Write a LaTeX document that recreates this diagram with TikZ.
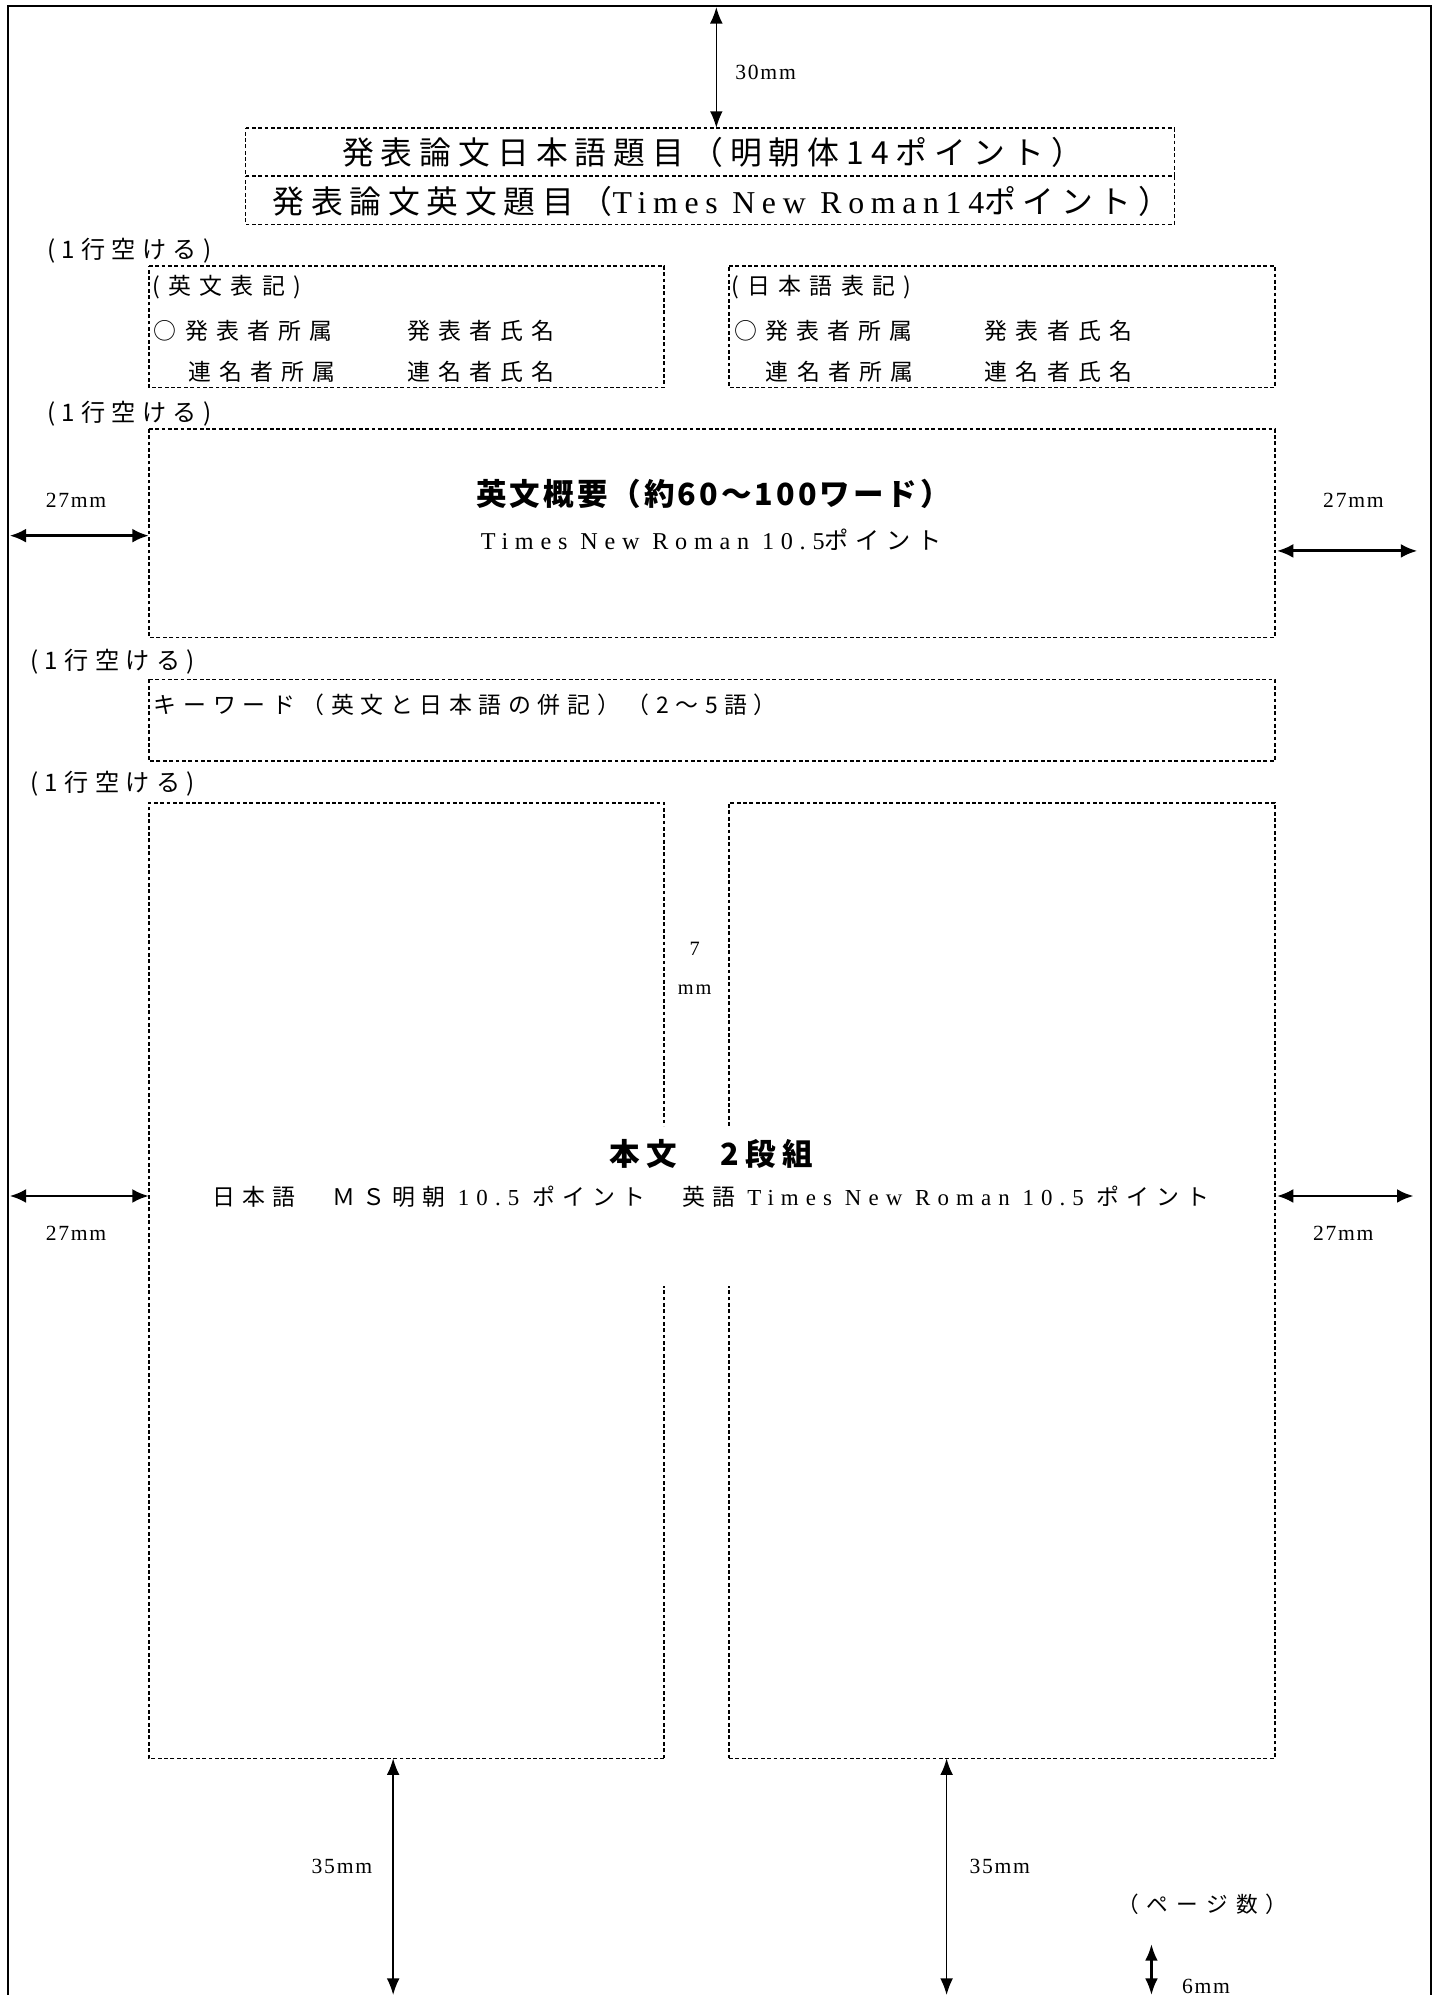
\documentclass[tikz,border=0pt]{standalone}
\usepackage{fontspec}
\setmainfont{Liberation Serif}
\newfontfamily\jp{Noto Sans CJK JP}
\usetikzlibrary{arrows.meta}
\newcommand\J[2]{{\jp\addfontfeatures{LetterSpace=#1}#2}}
\newcommand\R[2]{{\rmfamily\addfontfeatures{LetterSpace=#1}#2}}
\newcommand\fs[1]{\fontsize{#1}{#1}\selectfont}
\newcommand\boxsides[1]{%
  \draw[dline] (#1.north west) -- (#1.north east) -- (#1.south east) -- (#1.south west) -- cycle;}
\begin{document}
\begin{tikzpicture}[x=1pt,y=-1pt,
  area/.style={rectangle, inner sep=0pt, outer sep=0pt, draw=none},
  dline/.style={line width=1.3pt, dash pattern=on 3pt off 2pt},
  frame/.style={line width=1.7pt, line join=miter},
  dimv/.style={line width=1.3pt, >={Latex[length=13pt,width=10pt]}, <->},
  dimh/.style={line width=2.3pt, >={Latex[length=13pt,width=11pt]}, <->},
  txt/.style={inner sep=0pt, outer sep=0pt, font=\fs{18}},
  mm/.style={inner sep=0pt, outer sep=0pt, font=\fs{17}, anchor=west},
  skip/.style={inner sep=0pt, outer sep=0pt, font=\fs{19}, anchor=west}
]
\useasboundingbox (0,0) rectangle (1129,1568);

% page frame
\coordinate (FBL) at (6,1580);
\coordinate (FTL) at (6,4.5);
\coordinate (FTR) at (1124.5,4.5);
\coordinate (FBR) at (1124.5,1580);
\draw[frame] (FBL) -- (FTL) -- (FTR) -- (FBR);

% boxes
\node[area, minimum width=730, minimum height=38] (t1) at (558,119.5) {};
\node[area, minimum width=730, minimum height=38] (t2) at (558,157.5) {};
\node[area, minimum width=405, minimum height=95.5] (a1) at (319.5,256.75) {};
\node[area, minimum width=429, minimum height=95.5] (a2) at (787.5,256.75) {};
\node[area, minimum width=885, minimum height=164] (abs) at (559.5,419) {};
\node[area, minimum width=885, minimum height=64] (kw) at (559.5,566) {};
\node[area, minimum width=405, minimum height=751] (c1) at (319.5,1006.5) {};
\node[area, minimum width=429, minimum height=751] (c2) at (787.5,1006.5) {};
\boxsides{t1}
\boxsides{t2}
\boxsides{a1}
\boxsides{a2}
\boxsides{abs}
\boxsides{kw}
% body columns (inner sides broken for the text)
\draw[dline] (c1.south east) -- (c1.south west) -- (c1.north west) -- (c1.north east) -- ++(0,254);
\draw[dline] (c1.south east) -- ++(0,-371);
\draw[dline] (c2.south west) -- (c2.south east) -- (c2.north east) -- (c2.north west) -- ++(0,254);
\draw[dline] (c2.south west) -- ++(0,-371);

% titles
\node[txt, font=\fs{25}] (t1x) at (560,120) {\J{22}{発表論文日本語題目（明朝体14ポイント）}};
\node[txt, font=\fs{25}] (t2x) at (567,158) {\J{21}{発表論文英文題目（}\R{21}{Times New Roman14}\J{21}{ポイント）}};

% (1行空ける)
\node[skip] (s1) at (37,197) {\J{26}{(1行空ける)}};
\node[skip] (s2) at (37,325) {\J{26}{(1行空ける)}};
\node[skip] (s3) at (24,520) {\J{26}{(1行空ける)}};
\node[skip] (s4) at (24,616) {\J{26}{(1行空ける)}};

% author boxes
\node[txt, anchor=west] (a1h) at (120,226) {\J{36}{(英文表記)}};
\node[txt, anchor=west] (a1p) at (121,260) {\J{36}{○発表者所属}};
\node[txt, anchor=west] (a1n) at (320,260) {\J{36}{発表者氏名}};
\node[txt, anchor=west] (a1q) at (148,292) {\J{36}{連名者所属}};
\node[txt, anchor=west] (a1m) at (320,292) {\J{36}{連名者氏名}};
\node[txt, anchor=west] (a2h) at (575,226) {\J{36}{(日本語表記)}};
\node[txt, anchor=west] (a2p) at (577,260) {\J{36}{○発表者所属}};
\node[txt, anchor=west] (a2n) at (774,260) {\J{36}{発表者氏名}};
\node[txt, anchor=west] (a2q) at (602,292) {\J{36}{連名者所属}};
\node[txt, anchor=west] (a2m) at (774,292) {\J{36}{連名者氏名}};

% abstract
\node[txt, font=\fs{24}\bfseries] (absh) at (561,388) {\J{10}{英文概要（約60～100ワード）}};
\node[txt, font=\fs{19}] (absl) at (559,424) {\R{28}{Times New Roman 10.5}\J{28}{ポイント}};

% keywords
\node[txt, anchor=west] (kwx) at (121,554) {\J{29}{キーワード（英文と日本語の併記）（2～5語）}};

% body
\node[txt, font=\fs{16}] (g7) at (546,746) {7};
\node[txt, font=\fs{16}] (gmm) at (546,778) {\R{10}{mm}};
\node[txt, font=\fs{24}\bfseries] (bodyh) at (559,907) {\J{21}{本文　2段組}};
\node[txt] (bodyl) at (559,941) {\J{31}{日本語　ＭＳ明朝 }\R{31}{10.5 }\J{31}{ポイント　英語 }\R{31}{Times New Roman 10.5 }\J{31}{ポイント}};

% dimension labels
\node[mm] (m30) at (578,57) {\R{8}{30mm}};
\node[mm] (m27a) at (36,393) {\R{8}{27mm}};
\node[mm] (m27b) at (1040,393) {\R{8}{27mm}};
\node[mm] (m27c) at (36,969) {\R{8}{27mm}};
\node[mm] (m27d) at (1032,969) {\R{8}{27mm}};
\node[mm] (m35a) at (245,1467) {\R{8}{35mm}};
\node[mm] (m35b) at (762,1467) {\R{8}{35mm}};
\node[mm] (m6) at (929,1561) {\R{8}{6mm}};
\node[txt, font=\fs{17}, anchor=west] (page) at (878,1497) {\J{38}{（ページ数）}};

% dimension arrows
\coordinate (topA) at (563,5.5);
\draw[dimv] (topA) -- (topA |- t1.north);
\coordinate (L1) at (7.5,421);
\draw[dimh] (L1) -- (L1 -| abs.west);
\coordinate (R1a) at (1003.5,433);
\coordinate (R1b) at (1114,433);
\draw[dimh] (R1a) -- (R1b);
\coordinate (L2) at (7.5,940);
\draw[dimh] (L2) -- (L2 -| c1.west);
\coordinate (R2a) at (1003.5,940);
\coordinate (R2b) at (1111,940);
\draw[dimh] (R2a) -- (R2b);
\coordinate (B1) at (309,1568);
\draw[dimv] (B1 |- c1.south) -- (B1);
\coordinate (B2) at (744,1568);
\draw[dimv] (B2 |- c2.south) -- (B2);
\coordinate (P1) at (905,1528);
\coordinate (P2) at (905,1568);
\draw[dimv, line width=1.8pt] (P1) -- (P2);
\end{tikzpicture}
\end{document}
